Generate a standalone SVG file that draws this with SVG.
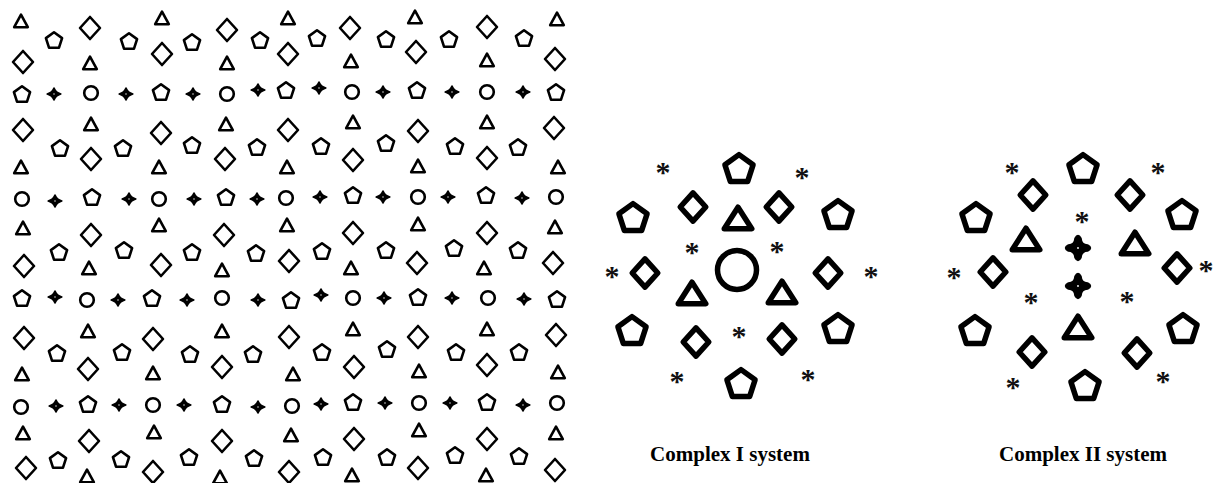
<svg xmlns="http://www.w3.org/2000/svg" width="1215" height="483" viewBox="0 0 1215 483">
<style>
.sm{fill:none;stroke:#000;stroke-width:2.6;stroke-linejoin:round}
.lg{fill:none;stroke:#000;stroke-width:5.5;stroke-linejoin:round}
.st{fill:#000;stroke:#000;stroke-linejoin:round}
.ast{font-family:"Liberation Serif","Times New Roman",serif;font-weight:bold;font-size:30px;fill:#111;text-anchor:middle}
.lbl{font-family:"Liberation Serif","Times New Roman",serif;font-weight:bold;font-size:21px;fill:#000;text-anchor:middle}
</style>
<defs>
<polygon id="t" class="sm" points="0,-6.3 6.8,6.2 -6.8,6.2"/>
<polygon id="d" class="sm" points="0,-11 10,0 0,11 -10,0"/>
<polygon id="p" class="sm" points="0,-7.7 8.08,-1.83 5,7.68 -5,7.68 -8.08,-1.83"/>
<circle id="o" class="sm" r="6.8"/>
<g id="s"><path class="st" stroke-width="1.6" d="M0,-6 Q1.6,-1.6 6.8,0 Q1.6,1.6 0,6 Q-1.6,1.6 -6.8,0 Q-1.6,-1.6 0,-6Z"/><circle r="0.7" fill="#fff"/></g>
<polygon id="T" class="lg" points="0,-10.75 13.75,10.75 -13.75,10.75"/>
<polygon id="D" class="lg" points="0,-14.2 12.8,0 0,14.2 -12.8,0"/>
<polygon id="P" class="lg" points="0,-13.4 14.07,-3.17 8.7,13.38 -8.7,13.38 -14.07,-3.17"/>
<circle id="O" class="lg" r="19.5"/>
<g id="S"><path class="st" stroke-width="2" d="M-2.8,-9.5 Q0,-15 2.8,-9.5 Q3.2,-3.2 9.5,-2.8 Q15,0 9.5,2.8 Q3.2,3.2 2.8,9.5 Q0,15 -2.8,9.5 Q-3.2,3.2 -9.5,2.8 Q-15,0 -9.5,-2.8 Q-3.2,-3.2 -2.8,-9.5Z"/><circle r="0.9" fill="#fff"/></g>
</defs>
<rect width="1215" height="483" fill="#fff"/>

<g id="lattice">
<g id="lattice-triangles">
<use href="#t" x="21" y="21"/><use href="#t" x="162" y="18"/><use href="#t" x="288" y="18"/><use href="#t" x="415" y="17"/><use href="#t" x="557" y="19"/>
<use href="#t" x="90" y="63"/><use href="#t" x="227" y="63"/><use href="#t" x="351" y="61"/><use href="#t" x="487" y="60"/>
<use href="#t" x="91" y="124"/><use href="#t" x="226" y="124"/><use href="#t" x="353" y="122"/><use href="#t" x="487" y="122"/>
<use href="#t" x="21" y="167"/><use href="#t" x="159" y="167"/><use href="#t" x="287" y="167"/><use href="#t" x="418" y="166"/><use href="#t" x="558" y="167"/>
<use href="#t" x="23" y="228"/><use href="#t" x="159" y="225"/><use href="#t" x="287" y="225"/><use href="#t" x="418" y="224"/><use href="#t" x="555" y="227"/>
<use href="#t" x="89" y="268"/><use href="#t" x="222" y="270"/><use href="#t" x="351" y="268"/><use href="#t" x="484" y="268"/>
<use href="#t" x="88" y="331"/><use href="#t" x="222" y="331"/><use href="#t" x="353" y="329"/><use href="#t" x="487" y="329"/>
<use href="#t" x="22" y="374"/><use href="#t" x="153" y="373"/><use href="#t" x="293" y="374"/><use href="#t" x="419" y="371"/><use href="#t" x="558" y="372"/>
<use href="#t" x="23" y="433"/><use href="#t" x="154" y="432"/><use href="#t" x="291" y="435"/><use href="#t" x="419" y="430"/><use href="#t" x="556" y="433"/>
<use href="#t" x="87" y="476"/><use href="#t" x="220" y="477"/><use href="#t" x="352" y="475"/><use href="#t" x="486" y="475"/>
</g>
<g id="lattice-diamonds">
<use href="#d" x="90" y="28"/><use href="#d" x="227" y="30"/><use href="#d" x="350" y="28"/><use href="#d" x="487" y="27"/>
<use href="#d" x="23" y="62"/><use href="#d" x="162" y="54"/><use href="#d" x="288" y="54"/><use href="#d" x="416" y="52"/><use href="#d" x="555" y="59"/>
<use href="#d" x="23" y="130"/><use href="#d" x="161" y="133"/><use href="#d" x="288" y="130"/><use href="#d" x="418" y="131"/><use href="#d" x="554" y="128"/>
<use href="#d" x="91" y="159"/><use href="#d" x="225" y="159"/><use href="#d" x="353" y="160"/><use href="#d" x="487" y="158"/>
<use href="#d" x="91" y="235"/><use href="#d" x="224" y="235"/><use href="#d" x="353" y="233"/><use href="#d" x="487" y="233"/>
<use href="#d" x="24" y="266"/><use href="#d" x="161" y="265"/><use href="#d" x="289" y="261"/><use href="#d" x="417" y="263"/><use href="#d" x="553" y="263"/>
<use href="#d" x="24" y="338"/><use href="#d" x="153" y="339"/><use href="#d" x="289" y="337"/><use href="#d" x="418" y="337"/><use href="#d" x="556" y="335"/>
<use href="#d" x="88" y="369"/><use href="#d" x="222" y="367"/><use href="#d" x="354" y="367"/><use href="#d" x="487" y="365"/>
<use href="#d" x="89" y="441"/><use href="#d" x="222" y="441"/><use href="#d" x="354" y="439"/><use href="#d" x="487" y="439"/>
<use href="#d" x="26" y="468"/><use href="#d" x="153" y="472"/><use href="#d" x="289" y="472"/><use href="#d" x="418" y="468"/><use href="#d" x="555" y="470"/>
</g>
<g id="lattice-pentagons">
<use href="#p" x="54" y="40"/><use href="#p" x="129" y="41"/><use href="#p" x="192" y="42"/><use href="#p" x="260" y="40"/><use href="#p" x="317" y="38"/><use href="#p" x="386" y="39"/><use href="#p" x="449" y="39"/><use href="#p" x="524" y="38"/>
<use href="#p" x="60" y="148"/><use href="#p" x="123" y="148"/><use href="#p" x="192" y="145"/><use href="#p" x="257" y="147"/><use href="#p" x="321" y="146"/><use href="#p" x="386" y="143"/><use href="#p" x="455" y="146"/><use href="#p" x="518" y="147"/>
<use href="#p" x="59" y="252"/><use href="#p" x="124" y="250"/><use href="#p" x="192" y="252"/><use href="#p" x="256" y="253"/><use href="#p" x="322" y="251"/><use href="#p" x="386" y="250"/><use href="#p" x="454" y="248"/><use href="#p" x="518" y="250"/>
<use href="#p" x="57" y="353"/><use href="#p" x="122" y="352"/><use href="#p" x="190" y="354"/><use href="#p" x="253" y="354"/><use href="#p" x="322" y="352"/><use href="#p" x="387" y="349"/><use href="#p" x="456" y="352"/><use href="#p" x="519" y="352"/>
<use href="#p" x="58" y="460"/><use href="#p" x="121" y="459"/><use href="#p" x="189" y="457"/><use href="#p" x="254" y="458"/><use href="#p" x="323" y="457"/><use href="#p" x="387" y="457"/><use href="#p" x="455" y="455"/><use href="#p" x="519" y="456"/>
<use href="#p" x="22" y="94"/><use href="#p" x="161" y="92"/><use href="#p" x="286" y="90"/><use href="#p" x="417" y="90"/><use href="#p" x="556" y="92"/>
<use href="#p" x="92" y="197"/><use href="#p" x="226" y="197"/><use href="#p" x="353" y="195"/><use href="#p" x="486" y="195"/>
<use href="#p" x="22" y="298"/><use href="#p" x="152" y="298"/><use href="#p" x="291" y="300"/><use href="#p" x="418" y="297"/><use href="#p" x="557" y="299"/>
<use href="#p" x="88" y="404"/><use href="#p" x="222" y="404"/><use href="#p" x="353" y="402"/><use href="#p" x="487" y="402"/>
</g>
<g id="lattice-circles">
<use href="#o" x="91" y="93"/><use href="#o" x="227" y="94"/><use href="#o" x="352" y="92"/><use href="#o" x="487" y="92"/>
<use href="#o" x="22" y="199"/><use href="#o" x="159" y="199"/><use href="#o" x="286" y="198"/><use href="#o" x="418" y="197"/><use href="#o" x="556" y="197"/>
<use href="#o" x="87" y="300"/><use href="#o" x="222" y="298"/><use href="#o" x="353" y="298"/><use href="#o" x="488" y="298"/>
<use href="#o" x="21" y="407"/><use href="#o" x="153" y="405"/><use href="#o" x="292" y="406"/><use href="#o" x="419" y="403"/><use href="#o" x="557" y="403"/>
</g>
<g id="lattice-stars">
<use href="#s" x="54" y="94"/><use href="#s" x="126" y="94"/><use href="#s" x="193" y="94"/><use href="#s" x="258" y="90"/><use href="#s" x="319" y="88"/><use href="#s" x="383" y="92"/><use href="#s" x="452" y="92"/><use href="#s" x="523" y="92"/>
<use href="#s" x="55" y="201"/><use href="#s" x="129" y="199"/><use href="#s" x="194" y="199"/><use href="#s" x="257" y="199"/><use href="#s" x="320" y="197"/><use href="#s" x="383" y="197"/><use href="#s" x="448" y="197"/><use href="#s" x="522" y="198"/>
<use href="#s" x="55" y="297"/><use href="#s" x="118" y="300"/><use href="#s" x="187" y="300"/><use href="#s" x="258" y="300"/><use href="#s" x="321" y="295"/><use href="#s" x="384" y="298"/><use href="#s" x="452" y="298"/><use href="#s" x="524" y="299"/>
<use href="#s" x="56" y="406"/><use href="#s" x="119" y="405"/><use href="#s" x="184" y="405"/><use href="#s" x="258" y="407"/><use href="#s" x="321" y="404"/><use href="#s" x="385" y="403"/><use href="#s" x="450" y="403"/><use href="#s" x="523" y="405"/>
</g>
</g>

<g id="complex-1">
<use href="#P" x="739" y="168"/><use href="#P" x="633" y="217"/><use href="#P" x="838" y="214"/><use href="#P" x="632" y="330"/><use href="#P" x="838" y="328"/><use href="#P" x="741" y="383"/>
<use href="#D" x="693" y="207"/><use href="#D" x="779" y="207"/><use href="#D" x="645" y="273"/><use href="#D" x="828" y="273"/><use href="#D" x="696" y="342"/><use href="#D" x="782" y="339"/>
<use href="#T" x="738" y="218"/><use href="#T" x="692" y="293"/><use href="#T" x="782" y="292"/>
<use href="#O" x="737" y="270"/>
<text class="ast" x="663" y="182">*</text><text class="ast" x="802" y="187">*</text><text class="ast" x="692" y="262">*</text><text class="ast" x="777" y="261">*</text><text class="ast" x="612" y="286">*</text><text class="ast" x="871" y="286">*</text><text class="ast" x="739" y="346">*</text><text class="ast" x="677" y="391">*</text><text class="ast" x="808" y="389">*</text>
<text class="lbl" x="730" y="461">Complex I system</text>
</g>

<g id="complex-2">
<use href="#P" x="1083" y="168"/><use href="#P" x="976" y="217"/><use href="#P" x="1182" y="214"/><use href="#P" x="975" y="330"/><use href="#P" x="1183" y="328"/><use href="#P" x="1085" y="385"/>
<use href="#D" x="1033" y="195"/><use href="#D" x="1130" y="195"/><use href="#D" x="993" y="272"/><use href="#D" x="1177" y="268"/><use href="#D" x="1032" y="352"/><use href="#D" x="1137" y="353"/>
<use href="#T" x="1026" y="239"/><use href="#T" x="1135" y="243"/><use href="#T" x="1078" y="327"/>
<use href="#S" x="1078" y="248"/><use href="#S" x="1078" y="286"/>
<text class="ast" x="1012" y="182">*</text><text class="ast" x="1158" y="182">*</text><text class="ast" x="1082" y="231">*</text><text class="ast" x="954" y="287">*</text><text class="ast" x="1206" y="280">*</text><text class="ast" x="1031" y="312">*</text><text class="ast" x="1127" y="311">*</text><text class="ast" x="1013" y="397">*</text><text class="ast" x="1163" y="391">*</text>
<text class="lbl" x="1083" y="461">Complex II system</text>
</g>
</svg>
